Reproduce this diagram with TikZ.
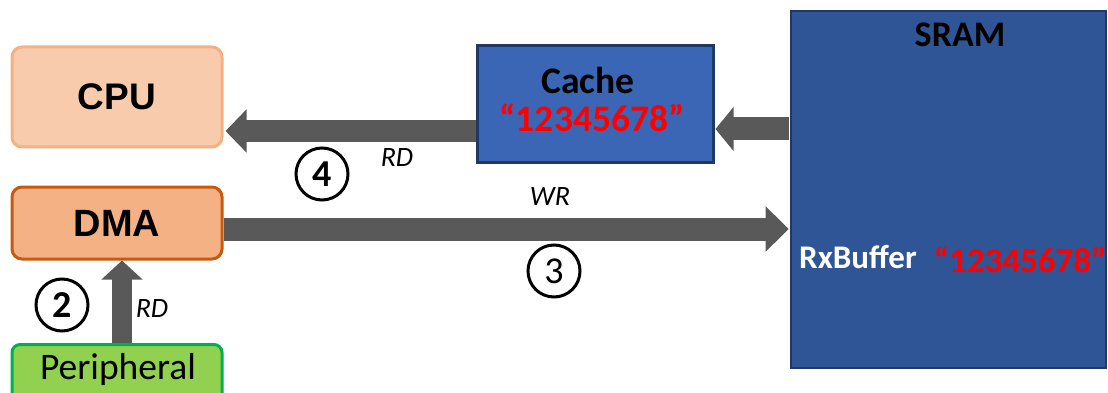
\documentclass[tikz,border=0pt]{standalone}
\usepackage{fontspec}
\setmainfont{Carlito}
\newfontfamily\arialf{Liberation Sans}
\usetikzlibrary{arrows.meta}
\definecolor{cpufill}{HTML}{F8CBAD}
\definecolor{cpuline}{HTML}{F4B183}
\definecolor{dmafill}{HTML}{F4B183}
\definecolor{dmaline}{HTML}{C55A11}
\definecolor{perfill}{HTML}{92D050}
\definecolor{perline}{HTML}{00B050}
\definecolor{cachefill}{HTML}{3A66B5}
\definecolor{sramfill}{HTML}{2F5597}
\definecolor{navyline}{HTML}{1F3864}
\definecolor{arrowgray}{HTML}{595959}
\definecolor{valred}{HTML}{FF0000}
\tikzset{
  box/.style={rectangle, line width=3pt, inner sep=0pt},
  rbox/.style={box, rounded corners=10pt},
  blockarrow/.style={draw=arrowgray, line width=#1},
  numcirc/.style={circle, draw=black, line width=3pt, minimum size=52pt, inner sep=0pt, font=\fontsize{38}{40}\selectfont},
  lbl/.style={font=\fontsize{28}{30}\selectfont\itshape, inner sep=0pt},
}
\begin{document}
\begin{tikzpicture}[x=1pt,y=-1pt]
\useasboundingbox (0,0) rectangle (1108,393);
\clip (0,0) rectangle (1108,393);
% boxes
\node[rbox, draw=cpuline, fill=cpufill, minimum width=210pt, minimum height=100pt,
      font=\arialf\bfseries\fontsize{37}{40}\selectfont] (cpu) at (117,97) {CPU};
\node[rbox, draw=dmaline, fill=dmafill, minimum width=210pt, minimum height=72pt,
      font=\arialf\bfseries\fontsize{38}{40}\selectfont] (dma) at (117,223) {DMA};
\node[box, rounded corners=8pt, draw=perline, fill=perfill, minimum width=210pt, minimum height=80pt, anchor=north] (per) at (117,343) {};
\node[inner sep=0pt, font=\fontsize{37.5}{40}\selectfont] (pertext) at (118,369) {Peripheral};
\node[box, draw=navyline, fill=cachefill, minimum width=236pt, minimum height=117pt] (cache) at (595,104) {};
\node[inner sep=0pt, font=\bfseries\fontsize{37.5}{40}\selectfont] (cachetitle) at (588,80) {Cache};
\node[inner sep=0pt, text=valred, font=\bfseries\fontsize{37.5}{40}\selectfont] (cacheval) at (592,118) {“12345678”};
\node[box, line width=2.6pt, draw=navyline, fill=sramfill, minimum width=315pt, minimum height=357pt] (sram) at (948.5,189.5) {};
\node[inner sep=0pt, font=\bfseries\fontsize{36}{40}\selectfont] (sramtitle) at (960,35) {SRAM};
\node[inner sep=0pt, text=white, font=\bfseries\fontsize{33}{36}\selectfont] (rxbuf) at (858,257) {RxBuffer};
\node[inner sep=0pt, text=valred, font=\bfseries\fontsize{35}{40}\selectfont] (sramval) at (1020,260) {“12345678”};
% arrow end points
\coordinate (a1s) at (cache.west |- 0,131);
\coordinate (a1e) at ([xshift=2pt]cpu.east |- 0,131);
\coordinate (a2s) at ([xshift=-1pt]sram.west |- 0,129);
\coordinate (a2e) at ([xshift=1pt]cache.east |- 0,129);
\coordinate (a3s) at (dma.east |- 0,229);
\coordinate (a3e) at ([xshift=-1pt]sram.west |- 0,229);
\coordinate (a4s) at ([xshift=5pt]per.north);
\coordinate (a4e) at ([xshift=5pt]dma.south);
% block arrows
\draw[blockarrow=22pt, -{Triangle[length=21pt,width=42pt]}, arrowgray] (a1s) -- (a1e);
\draw[blockarrow=23pt, -{Triangle[length=18pt,width=43pt]}, arrowgray] (a2s) -- (a2e);
\draw[blockarrow=23pt, -{Triangle[length=23pt,width=44pt]}, arrowgray] (a3s) -- (a3e);
\draw[blockarrow=20pt, -{Triangle[length=19pt,width=40pt]}, arrowgray] (a4s) -- (a4e);
% labels
\node[lbl] (rd1) at (152,309) {RD};
\node[lbl] (rd2) at (397,158) {RD};
\node[lbl] (wr) at (550,197) {WR};
\node[numcirc, font=\bfseries\fontsize{38}{40}\selectfont] (n2) at (62,305) {2};
\node[numcirc, font=\bfseries\fontsize{38}{40}\selectfont] (n4) at (322,174) {4};
\node[numcirc] (n3) at (554,271) {3};
\end{tikzpicture}
\end{document}
